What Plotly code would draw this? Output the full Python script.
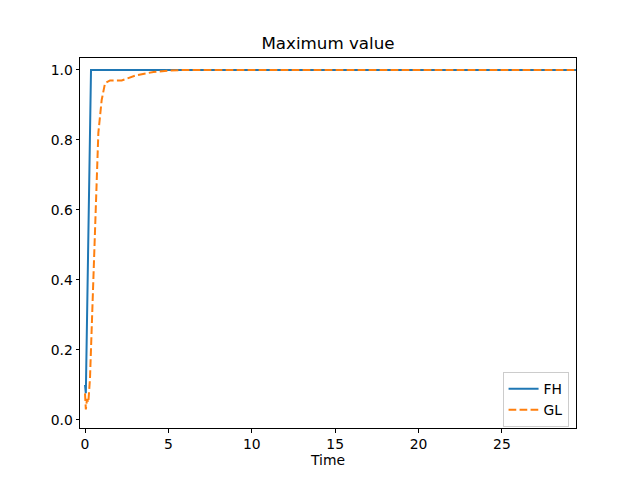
import plotly.graph_objects as go

fh_time = [0.0, 0.0, 0.05, 0.36, 1.0, 5.0, 10.0, 20.0, 29.5]
fh_value = [0.10, 0.10, 0.076, 1.0, 1.0, 1.0, 1.0, 1.0, 1.0]

gl_time = [0.0, 0.05, 0.12, 0.2, 0.3, 0.4, 0.5, 0.66, 0.8, 1.0, 1.2, 1.5, 2.2, 2.5, 3.1, 4.1, 5.0, 6.0, 10.0, 20.0, 29.5]
gl_value = [0.076, 0.03, 0.06, 0.05, 0.12, 0.248, 0.39, 0.63, 0.82, 0.914, 0.962, 0.97, 0.97, 0.975, 0.985, 0.994, 0.998, 1.0, 1.0, 1.0, 1.0]

x_ticks = [0, 5, 10, 15, 20, 25]
y_ticks = [0.0, 0.2, 0.4, 0.6, 0.8, 1.0]

fig = go.Figure()
fig.add_trace(go.Scatter(x=fh_time, y=fh_value, mode="lines", name="FH",
                         line=dict(color="#1f77b4", width=2)))
fig.add_trace(go.Scatter(x=gl_time, y=gl_value, mode="lines", name="GL",
                         line=dict(color="#ff7f0e", width=2, dash="7.7px,3.3px")))

axis_common = dict(showline=True, linecolor="black", linewidth=1, mirror=True,
                   ticks="outside", ticklen=3.5, tickcolor="black", tickwidth=1,
                   showgrid=False, zeroline=False, automargin=False,
                   tickfont=dict(family="DejaVu Sans", size=13.9, color="black"))

fig.update_layout(
    width=624, height=464,
    margin=dict(l=72, r=56, t=50, b=44),
    paper_bgcolor="white", plot_bgcolor="white",
    title=dict(text="Maximum value", x=0.5, xref="paper", y=1, yref="paper",
               yanchor="bottom", pad=dict(b=9),
               font=dict(family="DejaVu Sans", size=16.7, color="black")),
    xaxis=dict(range=[-0.3, 29.44], tickvals=x_ticks,
               title=dict(text="Time", font=dict(family="DejaVu Sans", size=13.9, color="black"), standoff=4),
               **axis_common),
    yaxis=dict(range=[-0.023, 1.034], tickvals=y_ticks, tickformat=".1f", **axis_common),
    legend=dict(x=0.985, y=0.002, xanchor="right", yanchor="bottom",
                bordercolor="#cccccc", borderwidth=1, bgcolor="rgba(255,255,255,0.8)",
                font=dict(family="DejaVu Sans", size=13.9, color="black"),
                tracegroupgap=0),
    showlegend=True,
)

fig.write_html("out.html")
